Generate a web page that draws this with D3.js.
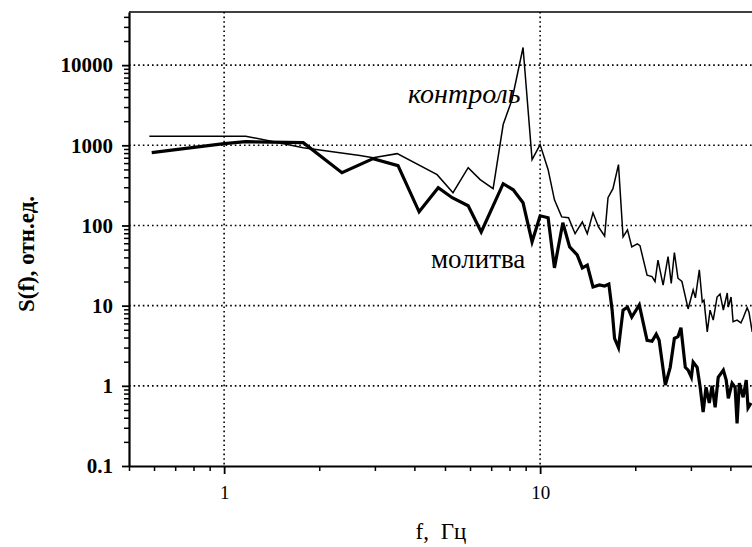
<!DOCTYPE html>
<html>
<head>
<meta charset="utf-8">
<script src="https://cdn.jsdelivr.net/npm/d3@7"></script>
<style>
  body { margin: 0; background: #fff; }
  svg { display: block; }
  text { font-family: "Liberation Serif", "Times New Roman", serif; fill: #000; }
</style>
</head>
<body>
<svg id="chart" width="752" height="547"></svg>
<script>
// спектр мощности, контроль (тонкая линия)
const controlFreq = [0.58, 1.17, 1.78, 2.69, 2.96, 3.53, 4.72, 5.30, 5.92, 6.46, 7.10, 7.64, 8.15, 8.83, 9.43,
    10.0, 10.6, 11.1, 11.7, 12.3, 12.9, 13.6, 14.1, 14.7, 15.3, 16.0, 16.4, 17.0, 17.7, 18.3, 18.9, 19.5, 20.3,
    20.7, 21.8, 22.6, 23.1, 23.6, 24.5, 25.4, 26.0, 26.6, 27.3, 28.1, 29.4, 30.5, 31.0, 31.9, 32.6, 33.0, 33.8,
    34.5, 35.3, 36.3, 37.1, 38.0, 39.1, 39.4, 40.2, 40.8, 42.0, 43.2, 43.9, 45.2, 45.8, 46.9];
const controlPower = [1300, 1300, 935, 744, 700, 787, 430, 256, 526, 373, 288, 1815, 3725, 16600, 662,
    1020, 497, 209, 128, 125, 79, 111, 79, 144, 96, 74, 222, 288, 574, 72, 88, 54, 59,
    56, 24, 23, 20, 37, 18, 41, 19, 46, 22, 20, 9.1, 15.7, 12.5, 28, 11.1, 11.7, 4.7,
    8.8, 6.6, 12.8, 14, 8.8, 14.4, 9.6, 12.8, 6.3, 6.6, 6.1, 7.0, 9.4, 8.3, 4.7];

// молитва (толстая линия)
const prayerFreq = [0.59, 1.0, 1.17, 1.78, 2.36, 2.96, 3.55, 4.14, 4.76, 5.27, 5.92, 6.51, 7.64, 8.22, 8.83,
    9.43, 10.0, 10.6, 11.1, 11.8, 12.4, 13.1, 13.6, 14.1, 14.7, 15.4, 16.0, 16.5, 16.9, 17.2, 17.7, 18.3,
    18.9, 19.5, 20.6, 21.8, 22.6, 23.3, 23.8, 24.9, 25.8, 26.6, 27.3, 27.9, 28.8, 29.4, 30.1, 30.5, 31.4,
    32.1, 32.8, 33.5, 34.3, 35.0, 35.8, 36.6, 38.0, 38.8, 39.4, 40.5, 41.4, 42.0, 42.7, 43.9, 44.9, 45.5, 46.5];
const prayerPower = [811, 1050, 1110, 1080, 456, 682, 558, 148, 296, 222, 176, 83, 332, 279, 192,
    62.5, 132, 125, 29.6, 108, 54, 43, 29.6, 32, 17.1, 18.1, 17.6, 18.6, 8.8, 3.9, 3.0, 8.8,
    9.6, 7.2, 10.2, 3.7, 3.6, 4.4, 3.7, 1.02, 1.7, 3.9, 4.1, 5.3, 1.7, 1.57, 1.28, 1.98, 1.7,
    0.96, 0.47, 0.96, 0.61, 1.0, 0.54, 1.28, 1.57, 1.18, 0.70, 1.08, 0.96, 0.34, 1.08, 0.72, 1.18, 0.53, 0.61];

const yTickValues = [0.1, 1, 10, 100, 1000, 10000];
const yTickLabels = ['0.1', '1', '10', '100', '1000', '10000'];
const xTickValues = [1, 10];
const xTickLabels = ['1', '10'];
const yGridValues = [1, 10, 100, 1000, 10000];
const xGridValues = [1, 10];

const svg = d3.select('#chart');

const x = d3.scaleLog().domain([0.5, 50]).range([129, 761]);
const y = d3.scaleLog().domain([0.1, 46000]).range([466, 12]);

const [x0, x1] = x.range();
const [yBottom, yTop] = y.range();

const isDecade = d => Math.abs(Math.log10(d) - Math.round(Math.log10(d))) < 1e-9;

// пунктирная сетка
const grid = svg.append('g').attr('class', 'grid')
    .attr('stroke', '#000')
    .attr('stroke-width', 1.6)
    .attr('stroke-dasharray', '1.6,3');
grid.selectAll('line.h').data(yGridValues).join('line')
    .attr('class', 'h')
    .attr('x1', x0).attr('x2', x1)
    .attr('y1', d => y(d)).attr('y2', d => y(d));
grid.selectAll('line.v').data(xGridValues).join('line')
    .attr('class', 'v')
    .attr('x1', d => x(d)).attr('x2', d => x(d))
    .attr('y1', yTop).attr('y2', yBottom);

// рамка сверху
svg.append('line')
    .attr('x1', x0).attr('x2', x1)
    .attr('y1', yTop).attr('y2', yTop)
    .attr('stroke', '#000').attr('stroke-width', 1.5);

// оси: мелкие деления
const yMinor = y.ticks().filter(d => !isDecade(d));
const xMinor = x.ticks().filter(d => !isDecade(d));

svg.append('g')
    .attr('transform', `translate(${x0},0)`)
    .call(d3.axisLeft(y).tickValues(yMinor).tickSize(5).tickSizeOuter(0).tickFormat(''))
    .call(g => g.select('.domain').remove())
    .call(g => g.selectAll('.tick line').attr('stroke-width', 1.5));

svg.append('g')
    .attr('transform', `translate(0,${yBottom})`)
    .call(d3.axisBottom(x).tickValues(xMinor).tickSize(5).tickSizeOuter(0).tickFormat(''))
    .call(g => g.select('.domain').remove())
    .call(g => g.selectAll('.tick line').attr('stroke-width', 1.5));

// оси: основные деления с подписями
svg.append('g')
    .attr('transform', `translate(${x0},0)`)
    .call(d3.axisLeft(y).tickValues(yTickValues).tickSize(7).tickSizeOuter(0).tickPadding(9)
        .tickFormat((d, i) => yTickLabels[i]))
    .call(g => g.select('.domain').attr('stroke-width', 2.2))
    .call(g => g.selectAll('.tick line').attr('stroke-width', 1.8))
    .call(g => g.selectAll('text')
        .attr('font-family', '"Liberation Serif", serif')
        .attr('font-size', 21)
        .attr('font-weight', 'bold'));

svg.append('g')
    .attr('transform', `translate(0,${yBottom})`)
    .call(d3.axisBottom(x).tickValues(xTickValues).tickSize(8).tickSizeOuter(0).tickPadding(12)
        .tickFormat((d, i) => xTickLabels[i]))
    .call(g => g.select('.domain').attr('stroke-width', 2.2))
    .call(g => g.selectAll('.tick line').attr('stroke-width', 1.8))
    .call(g => g.selectAll('text')
        .attr('font-family', '"Liberation Serif", serif')
        .attr('font-size', 19));

// кривые
const line = d3.line()
    .x(d => x(d[0]))
    .y(d => y(d[1]));

svg.append('path')
    .datum(d3.zip(controlFreq, controlPower))
    .attr('fill', 'none')
    .attr('stroke', '#000')
    .attr('stroke-width', 1.5)
    .attr('stroke-linejoin', 'miter')
    .attr('d', line);

svg.append('path')
    .datum(d3.zip(prayerFreq, prayerPower))
    .attr('fill', 'none')
    .attr('stroke', '#000')
    .attr('stroke-width', 3.2)
    .attr('stroke-linejoin', 'miter')
    .attr('d', line);

// подписи кривых
svg.append('text')
    .attr('x', 408).attr('y', 103)
    .attr('font-size', 28)
    .attr('font-style', 'italic')
    .text('контроль');

svg.append('text')
    .attr('x', 431).attr('y', 268)
    .attr('font-size', 27)
    .text('молитва');

// подписи осей
svg.append('text')
    .attr('transform', 'translate(34,254) rotate(-90)')
    .attr('text-anchor', 'middle')
    .attr('font-size', 23)
    .attr('font-weight', 'bold')
    .text('S(f), отн.ед.');

svg.append('text')
    .attr('x', 441).attr('y', 539)
    .attr('text-anchor', 'middle')
    .attr('font-size', 23)
    .attr('word-spacing', 6)
    .text('f, Гц');
</script>
</body>
</html>
